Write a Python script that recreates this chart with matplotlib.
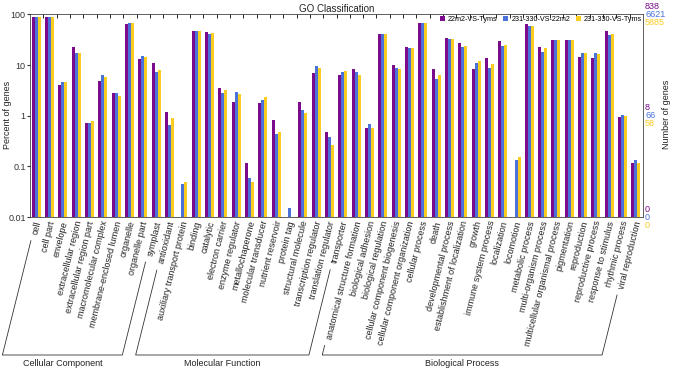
import numpy as np
import matplotlib
matplotlib.use('agg')
import matplotlib.pyplot as plt
from matplotlib.lines import Line2D
from matplotlib.transforms import blended_transform_factory, offset_copy

plt.rcParams['font.family'] = ['Liberation Sans', 'DejaVu Sans']

categories = ["cell", "cell part", "envelope", "extracellular region",
              "extracellular region part", "macromolecular complex",
              "membrane-enclosed lumen", "organelle", "organelle part", "symplast",
              "antioxidant", "auxiliary transport protein", "binding", "catalytic",
              "electron carrier", "enzyme regulator", "metallochaperone",
              "molecular transducer", "nutrient reservoir", "protein tag",
              "structural molecule", "transcription regulator",
              "translation regulator", "transporter",
              "anatomical structure formation", "biological adhesion",
              "biological regulation", "cellular component biogenesis",
              "cellular component organization", "cellular process", "death",
              "developmental process", "establishment of localization", "growth",
              "immune system process", "localization", "locomotion",
              "metabolic process", "multi-organism process",
              "multicellular organismal process", "pigmentation", "reproduction",
              "reproductive process", "response to stimulus", "rhythmic process",
              "viral reproduction"]

# (name, first index, last index)
groups = [("Cellular Component", 0, 9),
          ("Molecular Function", 10, 23),
          ("Biological Process", 24, 45)]

series = ["22m2-VS-Tyms", "231-330-VS-22m2", "231-330-VS-Tyms"]

pct_a = [89, 89, 4.0, 23, 0.71, 4.85, 2.75, 66, 13.1, 11.1,
         1.2, 0, 47, 45, 3.5, 1.9, 0.118, 1.77, 0.83, 0, 1.88, 7.0, 0.47, 6.4,
         8.5, 0.58, 40.5, 10.2, 22.8, 68.7, 8.5, 33.8, 27.8, 8.5, 14.1, 30, 0,
         63.7, 22.8, 31.4, 31.4, 14.4, 13.5, 47.9, 0.94, 0.116]
pct_b = [89, 89, 4.6, 17, 0.71, 6.3, 2.75, 68.7, 14.8, 7.3,
         0.65, 0.045, 47, 41, 2.78, 2.95, 0.06, 2.09, 0.43, 0.015, 1.29, 9.4, 0.38, 7.2,
         7.2, 0.68, 41, 8.6, 22, 68.7, 5.4, 32.9, 22.8, 11, 8.9, 23.5, 0.135,
         60, 18.5, 31.4, 31.4, 17.7, 17.2, 39.4, 1.03, 0.133]
pct_c = [89, 89, 4.6, 17.6, 0.79, 5.7, 2.4, 68.7, 14.6, 7.9,
         0.89, 0.05, 47, 43, 3.2, 2.7, 0.05, 2.32, 0.47, 0, 1.13, 8.9, 0.27, 7.5,
         6.5, 0.58, 41, 8.3, 21.7, 68.7, 6.5, 33, 24.3, 11.8, 10.5, 25, 0.152,
         60, 21.5, 31.4, 31.4, 17.2, 16.9, 41, 1.0, 0.116]

# right axis gene counts at 100%, 1%, 0.01%
count_levels = [100, 1, 0.01]
counts_a = ["838", "8", "0"]
counts_b = ["6621", "66", "0"]
counts_c = ["5885", "58", "0"]

colors = ["#7b0a8c", "#4a72d9", "#f9cc22"]

fig = plt.figure(figsize=(6.77, 3.70), dpi=100)
ax = fig.add_axes([0.0443, 0.4135, 0.9055, 0.5475])

x = np.arange(len(categories))
w = 0.225
for k, (vals, col, lab) in enumerate(zip([pct_a, pct_b, pct_c], colors, series)):
    ax.bar(x + (k - 1) * w - 0.03, vals, width=w, color=col, label=lab, bottom=0)

ax.set_yscale('log')
ax.set_ylim(0.01, 100)
ax.set_xlim(-0.5, len(categories) - 0.5)
ax.set_yticks([100, 10, 1, 0.1, 0.01])
ax.set_yticklabels(["100", "10", "1", "0.1", "0.01"])
ax.yaxis.set_minor_locator(matplotlib.ticker.NullLocator())
ax.tick_params(axis='y', labelsize=6.5, length=2, pad=1, colors='#333333')
ax.set_xticks(x[:-1] + 0.5, minor=True)
ax.set_xticks([])
ax.tick_params(axis='x', which='minor', direction='in', length=3, top=True, bottom=False)
for s in ax.spines.values():
    s.set_linewidth(0.6)
    s.set_color('#444444')

fig.text(8 / 677, 0.69, "Percent of genes", rotation=90, fontsize=6.5,
         ha='center', va='center', color='#222222')
ax.set_title("GO Classification", fontsize=7, pad=2, color='#222222')

ax.legend(loc='upper right', ncol=3, frameon=False, fontsize=5.2,
          handlelength=0.7, handleheight=0.7, handletextpad=0.4,
          columnspacing=0.8, borderaxespad=0.0, borderpad=0.15,
          bbox_to_anchor=(1.0, 1.0))

# right-hand gene counts
trans = blended_transform_factory(ax.transAxes, ax.transData)
for lvl_i, lvl in enumerate(count_levels):
    for k, (cnts, col) in enumerate(zip([counts_a, counts_b, counts_c], colors)):
        t = offset_copy(trans, fig=fig, x=2, y=(1 - k) * 8, units='dots')
        ax.text(1.0, lvl, cnts[lvl_i], transform=t, color=col, fontsize=6.5,
                ha='left', va='center', clip_on=False)
fig.text(0.985, 0.69, "Number of genes", rotation=90, fontsize=6.5,
         ha='center', va='center', color='#222222')

# category labels
angle = 76
labels = []
lt = blended_transform_factory(ax.transData, ax.transAxes)
for i, name in enumerate(categories):
    t = offset_copy(lt, fig=fig, x=2, y=-4, units='dots')
    labels.append(ax.text(i, 0, name, transform=t, rotation=angle, rotation_mode='anchor',
                          ha='right', va='center', fontsize=6.5, color='#222222'))

fig.canvas.draw()
r = fig.canvas.get_renderer()
ybase = 15  # display pixels
tan = np.tan(np.radians(angle))


def start_point(txt):
    bb = txt.get_window_extent(r)
    return bb.x0 + 1, bb.y0 - 1


for gname, i0, i1 in groups:
    xa, ya = start_point(labels[i0])
    xb, yb = start_point(labels[i1])
    xa0 = xa - (ya - ybase) / tan
    xb0 = xb - (yb - ybase) / tan
    pts_x = [xa - 1.5 / tan * 3, xa0, xb0, xb - 1.5 / tan * 3]
    pts_y = [ya - 1.5 * 3, ybase, ybase, yb - 1.5 * 3]
    fx = [p / fig.bbox.width for p in pts_x]
    fy = [p / fig.bbox.height for p in pts_y]
    fig.add_artist(Line2D(fx, fy, color='#333333', linewidth=0.6))
    fig.text((xa0 + xb0) / 2 / fig.bbox.width, 7 / fig.bbox.height, gname,
             fontsize=6.5, ha='center', va='center', color='#222222')

fig.savefig("out.png", dpi=100)
